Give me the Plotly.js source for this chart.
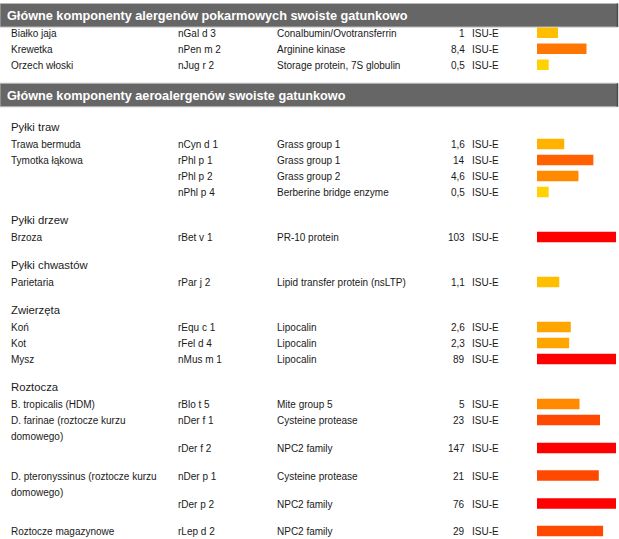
<!DOCTYPE html>
<html>
<head>
<meta charset="utf-8">
<script src="https://cdn.plot.ly/plotly-3.0.1.min.js"></script>
<style>html,body{margin:0;padding:0;background:#fff;}#chart{width:619px;height:539px;}</style>
</head>
<body>
<div id="chart"></div>
<script>
// ---- data ----
const sectionTitles = [
  'Główne komponenty alergenów pokarmowych swoiste gatunkowo',
  'Główne komponenty aeroalergenów swoiste gatunkowo'
];
const rowSection = [0, 0, 0, 1, 1, 1, 1, 1, 1, 1, 1, 1, 1, 1, 1, 1, 1, 1];
const rowGroup = ['', '', '',
  'Pyłki traw', 'Pyłki traw', 'Pyłki traw', 'Pyłki traw',
  'Pyłki drzew', 'Pyłki chwastów',
  'Zwierzęta', 'Zwierzęta', 'Zwierzęta',
  'Roztocza', 'Roztocza', 'Roztocza', 'Roztocza', 'Roztocza', 'Roztocza'];
const rowSource = ['Białko jaja', 'Krewetka', 'Orzech włoski',
  'Trawa bermuda', 'Tymotka łąkowa', 'Tymotka łąkowa', 'Tymotka łąkowa',
  'Brzoza', 'Parietaria',
  'Koń', 'Kot', 'Mysz',
  'B. tropicalis (HDM)',
  'D. farinae (roztocze kurzu<br>domowego)', 'D. farinae (roztocze kurzu<br>domowego)',
  'D. pteronyssinus (roztocze kurzu<br>domowego)', 'D. pteronyssinus (roztocze kurzu<br>domowego)',
  'Roztocze magazynowe'];
const rowCode = ['nGal d 3', 'nPen m 2', 'nJug r 2',
  'nCyn d 1', 'rPhl p 1', 'rPhl p 2', 'nPhl p 4',
  'rBet v 1', 'rPar j 2',
  'rEqu c 1', 'rFel d 4', 'nMus m 1',
  'rBlo t 5', 'nDer f 1', 'rDer f 2', 'nDer p 1', 'rDer p 2', 'rLep d 2'];
const rowProtein = ['Conalbumin/Ovotransferrin', 'Arginine kinase', 'Storage protein, 7S globulin',
  'Grass group 1', 'Grass group 1', 'Grass group 2', 'Berberine bridge enzyme',
  'PR-10 protein', 'Lipid transfer protein (nsLTP)',
  'Lipocalin', 'Lipocalin', 'Lipocalin',
  'Mite group 5', 'Cysteine protease', 'NPC2 family', 'Cysteine protease', 'NPC2 family', 'NPC2 family'];
const rowValue = [1, 8.4, 0.5, 1.6, 14, 4.6, 0.5, 103, 1.1, 2.6, 2.3, 89, 5, 23, 147, 21, 76, 29];
const unit = 'ISU-E';

// ---- styles / layout rules ----
const W = 619, H = 539;
const FONT = 'Liberation Sans, Arial, sans-serif';
const TXT = '#1a1a1a';
const col = {source: 10, code: 177, protein: 276, valueRight: 466, unit: 471, barL: 537, barR: 616};
const TY = 0.8; // text baseline nudge
function barColor(v) {
  if (v < 0.75) return '#FFD200';
  if (v < 1.3) return '#FFBF00';
  if (v < 2) return '#FFB300';
  if (v < 3.5) return '#FFA500';
  if (v < 6) return '#FF8A00';
  if (v < 10) return '#FF7700';
  if (v < 17) return '#FF6000';
  if (v < 50) return '#FF4800';
  return '#FF0000';
}
const px = x => x / W;
function txt(x, y, text, anchor, size, color) {
  return {xref: 'paper', yref: 'y', x: px(x), y: y, xanchor: anchor || 'left', yanchor: 'middle',
    text: text, showarrow: false, font: {family: FONT, size: size || 10, color: color || TXT}};
}

// compute vertical positions
const shapes = [], annotations = [];
const rowY = [];
let y = 0, prevSection = -1, prevGroup = null, prevSource = null, blockStartY = 0, blockWrapped = false;
for (let i = 0; i < rowValue.length; i++) {
  const s = rowSection[i], g = rowGroup[i], src = rowSource[i];
  const newSection = s !== prevSection;
  const newGroup = newSection || g !== prevGroup;
  if (newSection) {
    const top = (i === 0) ? 3.5 : y + 18.5;
    const hh = 23.5;
    shapes.push({type: 'rect', xref: 'paper', yref: 'y', x0: 0, x1: px(617.5), y0: top, y1: top + hh,
      fillcolor: '#666666', line: {color: '#b8b8b8', width: 1}, layer: 'below'});
    shapes.push({type: 'line', xref: 'paper', yref: 'y', x0: px(617.5), x1: px(617.5), y0: top, y1: top + hh,
      line: {color: '#4a4a4a', width: 1.5}});
    annotations.push(txt(5, top + hh / 2 + 0.5, '<b>' + sectionTitles[s] + '</b>', 'left', 12.7, '#ffffff'));
    y = top + hh / 2;
    if (g === '') { y += 17.5; }
  }
  if (newGroup && g !== '') {
    const gy = newSection ? y + 32 : y + 28;
    annotations.push(txt(col.source - 1, gy, g, 'left', 11.3, TXT));
    y = gy + 17;
    prevSource = null;
  } else if (!newSection) {
    if (src !== prevSource) {
      y += blockWrapped ? 27.5 : 16;
    } else {
      y += (y === blockStartY && blockWrapped) ? 28 : 16;
    }
  }
  if (src !== prevSource) {
    blockStartY = y;
    const lines = src.split('<br>');
    blockWrapped = lines.length > 1;
    lines.forEach((ln, k) => annotations.push(txt(col.source - 1, y + TY + k * 16, ln)));
  }
  rowY.push(y);
  annotations.push(txt(col.code - 1, y + TY, rowCode[i]));
  annotations.push(txt(col.protein - 1, y + TY, rowProtein[i]));
  annotations.push(txt(col.valueRight + 1, y + TY, String(rowValue[i]).replace('.', ','), 'right'));
  annotations.push(txt(col.unit - 1, y + TY, unit));
  prevSection = s; prevGroup = g; prevSource = src;
}

const trace = {
  type: 'bar', orientation: 'h',
  x: rowValue, y: rowY, width: 10.5,
  marker: {color: rowValue.map(barColor), line: {width: 0}},
  hoverinfo: 'skip'
};

const layout = {
  width: W, height: H,
  margin: {l: 0, r: 0, t: 0, b: 0, pad: 0},
  paper_bgcolor: '#ffffff', plot_bgcolor: 'rgba(0,0,0,0)',
  showlegend: false, hovermode: false,
  xaxis: {type: 'log', domain: [col.barL / W, col.barR / W], range: [-0.68, 1.88],
    visible: false, showgrid: false, zeroline: false, fixedrange: true},
  yaxis: {range: [H, 0], domain: [0, 1], visible: false, showgrid: false, zeroline: false, fixedrange: true},
  shapes: shapes,
  annotations: annotations
};

Plotly.newPlot('chart', [trace], layout, {displayModeBar: false, staticPlot: true});
</script>
</body>
</html>
